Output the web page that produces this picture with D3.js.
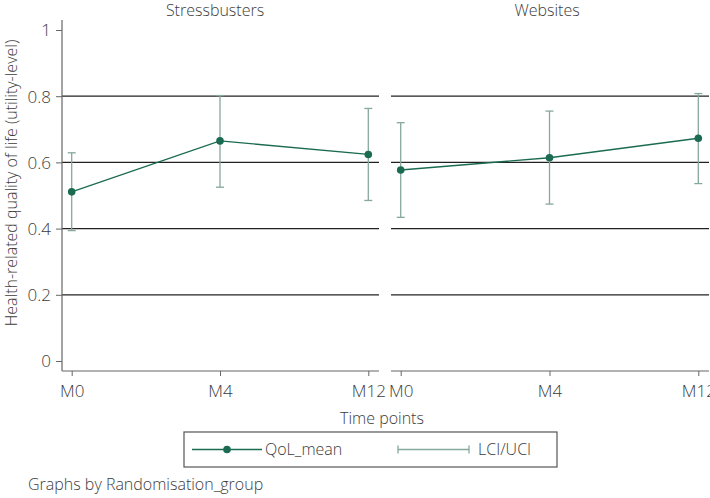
<!DOCTYPE html>
<html><head><meta charset="utf-8">
<script src="https://cdn.jsdelivr.net/npm/d3@7"></script>
<style>
body{margin:0;background:#fff;}
text{font-family:"Open Sans",sans-serif;font-weight:300;fill:#3c3c3c;}
</style></head>
<body><svg id="c" width="710" height="498"></svg>
<script>
const timepoints = ["M0","M4","M12"];
const groups = ["Stressbusters","Websites"];
const meanStress = [0.511, 0.665, 0.624];
const lciStress  = [0.394, 0.525, 0.485];
const uciStress  = [0.629, 0.802, 0.763];
const meanWeb = [0.577, 0.614, 0.673];
const lciWeb  = [0.434, 0.474, 0.536];
const uciWeb  = [0.720, 0.755, 0.808];
const yTicks = [0, 0.2, 0.4, 0.6, 0.8, 1];
const gridVals = [0.2, 0.4, 0.6, 0.8];

const panels = [
  {title: groups[0], mean: meanStress, lci: lciStress, uci: uciStress, x0: 62, x1: 379, tx: 215},
  {title: groups[1], mean: meanWeb, lci: lciWeb, uci: uciWeb, x0: 391, x1: 709, tx: 547}
];
const svg = d3.select("#c");
const plotTop = 20, plotBottom = 371;
const y = d3.scaleLinear().domain([0,1]).range([361,30]);
const meanCol = "#1a6b52", ciCol = "#86a89d";
const fs = "16px", tfs = "17px";

panels.forEach((p,pi) => {
  const x = d3.scalePoint().domain(timepoints).range([p.x0+9.7, p.x1-10.7]);
  const g = svg.append("g");
  g.selectAll(".grid").data(gridVals).join("line")
    .attr("x1", p.x0).attr("x2", p.x1)
    .attr("y1", d=>y(d)).attr("y2", d=>y(d))
    .attr("stroke", "#222").attr("stroke-width", 1.3);
  const xa = g.append("g").attr("transform", `translate(0,${plotBottom})`)
    .call(d3.axisBottom(x).tickSize(5).tickSizeOuter(0));
  xa.select(".domain").attr("d", `M${p.x0},0H${p.x1}`).attr("stroke","#666").attr("stroke-width",1.2);
  xa.selectAll(".tick line").attr("stroke","#666");
  xa.selectAll(".tick text").attr("dy", null).attr("y", 26)
    .style("font-size",tfs).style("font-family","'Open Sans',sans-serif").style("font-weight",300).attr("fill","#3c3c3c");
  if (pi === 0) {
    const ya = g.append("g").attr("transform", `translate(${p.x0},0)`)
      .call(d3.axisLeft(y).tickValues(yTicks).tickFormat(d3.format("")).tickSize(6).tickSizeOuter(0));
    ya.select(".domain").attr("d", `M0,${plotTop}V${plotBottom}`).attr("stroke","#666").attr("stroke-width",1.2);
    ya.selectAll(".tick line").attr("stroke","#666");
    ya.selectAll(".tick text").attr("x", -11).attr("dy","0.35em")
      .style("font-size",tfs).style("font-family","'Open Sans',sans-serif").style("font-weight",300).attr("fill","#3c3c3c");
  }
  const cap = 4;
  timepoints.forEach((t,i) => {
    const cx = x(t);
    g.append("line").attr("x1",cx).attr("x2",cx).attr("y1",y(p.lci[i])).attr("y2",y(p.uci[i]))
      .attr("stroke",ciCol).attr("stroke-width",1.3);
    [p.lci[i], p.uci[i]].forEach(v => {
      g.append("line").attr("x1",cx-cap).attr("x2",cx+cap).attr("y1",y(v)).attr("y2",y(v))
        .attr("stroke",ciCol).attr("stroke-width",1.3);
    });
  });
  const line = d3.line().x((d,i)=>x(timepoints[i])).y(d=>y(d));
  g.append("path").attr("d", line(p.mean)).attr("fill","none").attr("stroke",meanCol).attr("stroke-width",1.3);
  g.selectAll(".pt").data(p.mean).join("circle")
    .attr("cx",(d,i)=>x(timepoints[i])).attr("cy",d=>y(d)).attr("r",3.8).attr("fill",meanCol);
  svg.append("text").attr("x",p.tx).attr("y",15.5).attr("text-anchor","middle")
    .style("font-size",fs).text(p.title);
});

svg.append("text").attr("transform","translate(17,183) rotate(-90)").attr("text-anchor","middle")
  .style("font-size",fs).text("Health-related quality of life (utility-level)");
svg.append("text").attr("x",382).attr("y",424).attr("text-anchor","middle")
  .style("font-size",fs).text("Time points");

svg.append("rect").attr("x",184).attr("y",432).attr("width",373).attr("height",35)
  .attr("fill","none").attr("stroke","#555").attr("stroke-width",1.2);
svg.append("line").attr("x1",192).attr("x2",262).attr("y1",449.5).attr("y2",449.5)
  .attr("stroke",meanCol).attr("stroke-width",1.3);
svg.append("circle").attr("cx",227).attr("cy",449.5).attr("r",3.8).attr("fill",meanCol);
svg.append("text").attr("x",265).attr("y",455).style("font-size",fs).text("QoL_mean");
svg.append("line").attr("x1",398).attr("x2",469).attr("y1",449.5).attr("y2",449.5)
  .attr("stroke",ciCol).attr("stroke-width",1.3);
[398,469].forEach(xx => svg.append("line").attr("x1",xx).attr("x2",xx).attr("y1",445.5).attr("y2",453.5)
  .attr("stroke",ciCol).attr("stroke-width",1.3));
svg.append("text").attr("x",478).attr("y",455).style("font-size",fs).text("LCI/UCI");

svg.append("text").attr("x",28).attr("y",490).style("font-size",fs).text("Graphs by Randomisation_group");
</script></body></html>
